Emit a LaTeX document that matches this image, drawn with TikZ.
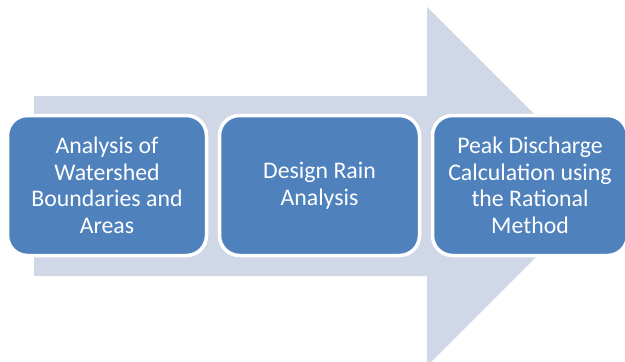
\documentclass[tikz,border=0pt]{standalone}
\usepackage{fontspec}
\setmainfont{Carlito}
\definecolor{arrowfill}{HTML}{D0D8E8}
\definecolor{boxfill}{HTML}{4F81BD}
\tikzset{
  stepbox/.style={rectangle, rounded corners=20pt, fill=boxfill, draw=white, line width=3.5pt,
    minimum height=140pt, inner sep=2pt, align=center, text=white,
    font=\fontsize{23.8}{26.5}\selectfont},
  bigarrow/.style={fill=arrowfill, draw=none}
}
\begin{document}
\begin{tikzpicture}[x=1pt,y=-1pt]
\useasboundingbox (0,0) rectangle (625,362);
\clip (0,0) rectangle (625,362);
\coordinate (s1) at (34,96);
\coordinate (s2) at (427,96);
\coordinate (h1) at (427,7);
\coordinate (tip) at (606.5,186.5);
\coordinate (h2) at (427,366);
\coordinate (s3) at (427,276);
\coordinate (s4) at (34,276);
\fill[bigarrow] (s1) -- (s2) -- (h1) -- (tip) -- (h2) -- (s3) -- (s4) -- cycle;
\node[stepbox, minimum width=199pt] (b1) at (107,185.5) {Analysis of\\Watershed\\Boundaries and\\Areas};
\node[stepbox, minimum width=200pt] (b2) at (319.5,185.5) {Design Rain\\Analysis};
\node[stepbox, minimum width=195pt] (b3) at (530,185.5) {Peak Discharge\\Calculation using\\the Rational\\Method};
\end{tikzpicture}
\end{document}
